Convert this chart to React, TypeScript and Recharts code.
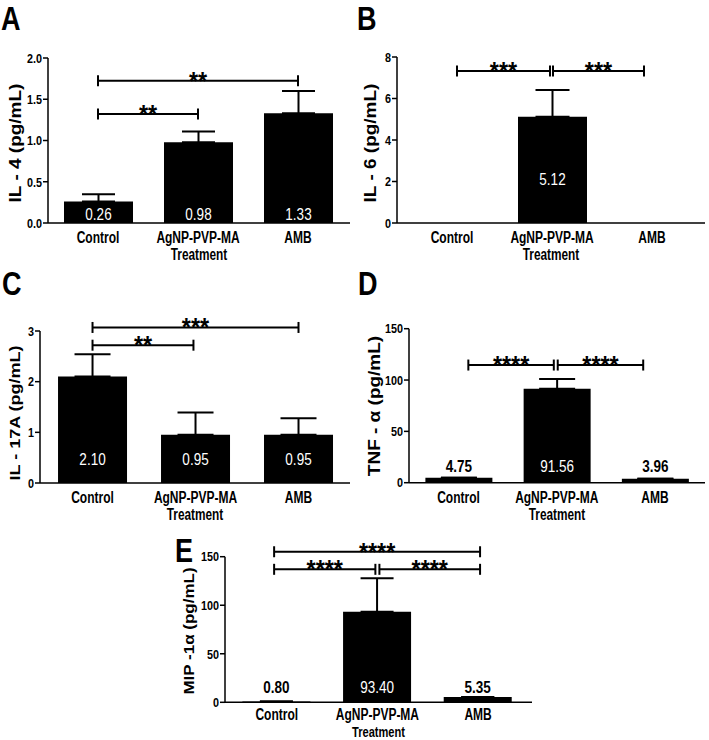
import React from 'react';
import { BarChart, Bar, XAxis, YAxis, ErrorBar, LabelList, ReferenceLine } from 'recharts';

const WIDE = "'Liberation Sans', Arial, sans-serif";
const SX = 0.82; // horizontal condensing of the figure's lettering

// categories
const groups = ['Control', 'AgNP-PVP-MA', 'AMB'];
const groupIndex = [1, 2, 3];
const axisTitleX = 'Treatment';

// Panel A : IL-4
const il4Values = [0.26, 0.98, 1.33];
const il4Errors = [0.09, 0.13, 0.27];
const il4Ticks = [0, 0.5, 1.0, 1.5, 2.0];
const il4Brackets = [
  { from: 1, to: 3, y: 1.725, stars: '**' },
  { from: 1, to: 2, y: 1.32, stars: '**' },
];

// Panel B : IL-6
const il6Values: (number | null)[] = [null, 5.12, null];
const il6Errors: (number | null)[] = [null, 1.29, null];
const il6Ticks = [0, 2, 4, 6, 8];
const il6Brackets = [
  { from: 1.05, to: 1.98, y: 7.33, stars: '***' },
  { from: 2.01, to: 2.92, y: 7.33, stars: '***' },
];

// Panel C : IL-17A
const il17Values = [2.10, 0.95, 0.95];
const il17Errors = [0.44, 0.44, 0.33];
const il17Ticks = [0, 1, 2, 3];
const il17Brackets = [
  { from: 1, to: 3, y: 3.07, stars: '***' },
  { from: 1, to: 1.98, y: 2.72, stars: '**' },
];

// Panel D : TNF-alpha
const tnfValues = [4.75, 91.56, 3.96];
const tnfErrors = [0, 9.4, 0];
const tnfTicks = [0, 50, 100, 150];
const tnfBrackets = [
  { from: 1.1, to: 1.97, y: 114.6, stars: '****' },
  { from: 2.01, to: 2.88, y: 114.6, stars: '****' },
];

// Panel E : MIP-1alpha
const mipValues = [0.80, 93.40, 5.35];
const mipErrors = [0, 34.4, 0];
const mipTicks = [0, 50, 100, 150];
const mipBrackets = [
  { from: 0.974, to: 3.02, y: 155.1, stars: '****' },
  { from: 0.974, to: 1.98, y: 137.0, stars: '****' },
  { from: 2.02, to: 3.02, y: 137.0, stars: '****' },
];

type Bracket = { from: number; to: number; y: number; stars: string };
type Geo = {
  left: number; top: number; width: number; height: number;
  plotLeft: number; plotTop: number; plotRight: number; plotBottom: number;
  tickOffset: number; titleOffset: number; titleSize: number;
};

type PanelProps = {
  values: (number | null)[];
  errors: (number | null)[];
  ticks: number[];
  tickDigits: number;
  xDomain: [number, number];
  brackets: Bracket[];
  geo: Geo;
  barSize: number;
  capHalf: number;
  labelOffset: number;
};

function NText(props: {
  x: number; y: number; anchor?: 'start' | 'middle' | 'end'; size: number; weight?: number;
  fill?: string; dy?: string; sx?: number; children: React.ReactNode;
}) {
  const { x, y, anchor = 'middle', size, weight = 700, fill = '#000', dy, sx = SX, children } = props;
  return (
    <text
      transform={`translate(${x},${y}) scale(${sx},1)`}
      x={0}
      y={0}
      dy={dy}
      textAnchor={anchor}
      fontSize={size}
      fontWeight={weight}
      fontFamily={WIDE}
      fill={fill}
    >
      {children}
    </text>
  );
}

const makeXTick = (offset: number) => (p: any) => (
  <NText x={Number(p.x)} y={Number(p.y) + offset} size={16} sx={0.75}>
    {groups[Math.round(p.payload.value) - 1]}
  </NText>
);

const makeYTick = (digits: number) => (p: any) => (
  <NText x={Number(p.x)} y={Number(p.y)} anchor="end" size={13.5} dy="0.355em" sx={0.8}>
    {Number(p.payload.value).toFixed(digits)}
  </NText>
);

const makeBracketShape = (stars: string) => (p: any) => {
  const x1 = Number(p.x1), x2 = Number(p.x2), y = Number(p.y1);
  return (
    <g>
      <line x1={x1} y1={y} x2={x2} y2={y} stroke="#000" strokeWidth={2} />
      <line x1={x1} y1={y - 5.5} x2={x1} y2={y + 5.5} stroke="#000" strokeWidth={2} />
      <line x1={x2} y1={y - 5.5} x2={x2} y2={y + 5.5} stroke="#000" strokeWidth={2} />
      <NText x={(x1 + x2) / 2} y={y + 9} size={26} sx={0.9}>
        {stars}
      </NText>
    </g>
  );
};

function Panel(props: PanelProps) {
  const { values, errors, ticks, tickDigits, xDomain, brackets, geo, barSize, capHalf, labelOffset } = props;
  const data = groupIndex.map((g, i) => ({
    x: g,
    value: values[i],
    err: errors[i] == null ? null : [0, errors[i] as number],
  }));
  const yMax = ticks[ticks.length - 1];

  const renderValueLabel = (lp: any) => {
    if (lp.value == null) return null;
    const x = Number(lp.x), w = Number(lp.width), y = Number(lp.y), h = Number(lp.height);
    const bottom = y + h;
    const inside = h > labelOffset + 14;
    return (
      <NText x={x + w / 2} y={bottom - labelOffset} size={16.5} weight={inside ? 400 : 700} fill={inside ? '#fff' : '#000'}>
        {Number(lp.value).toFixed(2)}
      </NText>
    );
  };

  return (
    <div style={{ position: 'absolute', left: geo.left, top: geo.top }}>
      <BarChart
        width={geo.width}
        height={geo.height}
        data={data}
        margin={{
          top: geo.plotTop - geo.top,
          right: geo.left + geo.width - geo.plotRight,
          bottom: 0,
          left: 0,
        }}
      >
        <XAxis
          type="number"
          dataKey="x"
          domain={xDomain}
          ticks={groupIndex}
          allowDataOverflow
          height={geo.top + geo.height - geo.plotBottom}
          tickLine={false}
          tickSize={0}
          tickMargin={0}
          axisLine={{ stroke: '#000', strokeWidth: 1.5 }}
          tick={makeXTick(geo.tickOffset)}
          interval={0}
        />
        <YAxis
          type="number"
          domain={[0, yMax]}
          ticks={ticks}
          allowDataOverflow
          interval={0}
          width={geo.plotLeft - geo.left}
          tickSize={5}
          tickMargin={1}
          tickLine={{ stroke: '#000', strokeWidth: 1.5 }}
          axisLine={{ stroke: '#000', strokeWidth: 1.5 }}
          tick={makeYTick(tickDigits)}
        />
        <Bar dataKey="value" fill="#000" barSize={barSize} isAnimationActive={false}>
          <ErrorBar dataKey="err" direction="y" width={capHalf} stroke="#000" strokeWidth={2} />
          <LabelList dataKey="value" content={renderValueLabel} />
        </Bar>
        {brackets.map((b, i) => (
          <ReferenceLine
            key={i}
            segment={[{ x: b.from, y: b.y }, { x: b.to, y: b.y }]}
            ifOverflow="visible"
            stroke="#000"
            shape={makeBracketShape(b.stars)}
          />
        ))}
      </BarChart>
    </div>
  );
}

const geoA: Geo = { left: 0, top: 0, width: 360, height: 262, plotLeft: 48, plotTop: 58, plotRight: 350, plotBottom: 223, tickOffset: 20, titleOffset: 37, titleSize: 16 };
const geoB: Geo = { left: 355, top: 0, width: 354, height: 262, plotLeft: 397, plotTop: 57, plotRight: 705, plotBottom: 223, tickOffset: 20, titleOffset: 37, titleSize: 16 };
const geoC: Geo = { left: 0, top: 262, width: 360, height: 263, plotLeft: 40, plotTop: 331, plotRight: 350, plotBottom: 483, tickOffset: 20, titleOffset: 37, titleSize: 16 };
const geoD: Geo = { left: 355, top: 262, width: 354, height: 263, plotLeft: 409, plotTop: 328.7, plotRight: 705, plotBottom: 482.7, tickOffset: 20, titleOffset: 37, titleSize: 16 };
const geoE: Geo = { left: 170, top: 525, width: 380, height: 215, plotLeft: 225, plotTop: 556.7, plotRight: 532, plotBottom: 702.3, tickOffset: 17.5, titleOffset: 34.5, titleSize: 15 };

const panelLetters = [
  { t: 'A', x: 1, y: 29.5 },
  { t: 'B', x: 357, y: 29.5 },
  { t: 'C', x: 2, y: 295 },
  { t: 'D', x: 358, y: 295 },
  { t: 'E', x: 175, y: 562 },
];

const yTitles = [
  { t: 'IL - 4 (pg/mL)', x: 15, y: 143, size: 19 },
  { t: 'IL - 6 (pg/mL)', x: 370, y: 143, size: 19 },
  { t: 'IL - 17A (pg/mL)', x: 15, y: 413, size: 18 },
  { t: 'TNF - \u03B1 (pg/mL)', x: 374, y: 406, size: 19 },
  { t: 'MIP -1\u03B1 (pg/mL)', x: 189, y: 631, size: 17 },
];

const allGeos = [geoA, geoB, geoC, geoD, geoE];

export default function App() {
  return (
    <div style={{ position: 'absolute', left: 0, top: 0, width: 709, height: 740, background: '#fff', overflow: 'hidden' }}>
      <Panel values={il4Values} errors={il4Errors} ticks={il4Ticks} tickDigits={1} xDomain={[0.5, 3.52]}
        brackets={il4Brackets} geo={geoA} barSize={69} capHalf={16.5} labelOffset={3} />
      <Panel values={il6Values} errors={il6Errors} ticks={il6Ticks} tickDigits={0} xDomain={[0.45, 3.53]}
        brackets={il6Brackets} geo={geoB} barSize={69} capHalf={17} labelOffset={38} />
      <Panel values={il17Values} errors={il17Errors} ticks={il17Ticks} tickDigits={0} xDomain={[0.49, 3.5]}
        brackets={il17Brackets} geo={geoC} barSize={69} capHalf={18} labelOffset={18} />
      <Panel values={tnfValues} errors={tnfErrors} ticks={tnfTicks} tickDigits={0} xDomain={[0.496, 3.509]}
        brackets={tnfBrackets} geo={geoD} barSize={67} capHalf={18} labelOffset={11} />
      <Panel values={mipValues} errors={mipErrors} ticks={mipTicks} tickDigits={0} xDomain={[0.486, 3.536]}
        brackets={mipBrackets} geo={geoE} barSize={68} capHalf={16.5} labelOffset={9} />
      <svg width={709} height={740} style={{ position: 'absolute', left: 0, top: 0, pointerEvents: 'none' }}>
        {panelLetters.map((l) => (
          <NText key={l.t} x={l.x} y={l.y} anchor="start" size={33}>{l.t}</NText>
        ))}
        {yTitles.map((t) => (
          <text key={t.t} transform={`translate(${t.x},${t.y}) rotate(-90) scale(1,0.85)`} x={0} y={0} dy="0.35em"
            textAnchor="middle" fontSize={t.size} fontWeight={700} fontFamily={WIDE} fill="#000">{t.t}</text>
        ))}
        {allGeos.map((g, i) => (
          <NText key={i} x={(g.plotLeft + g.plotRight) / 2} y={g.plotBottom + g.titleOffset} size={g.titleSize} sx={0.74}>
            {axisTitleX}
          </NText>
        ))}
      </svg>
    </div>
  );
}
